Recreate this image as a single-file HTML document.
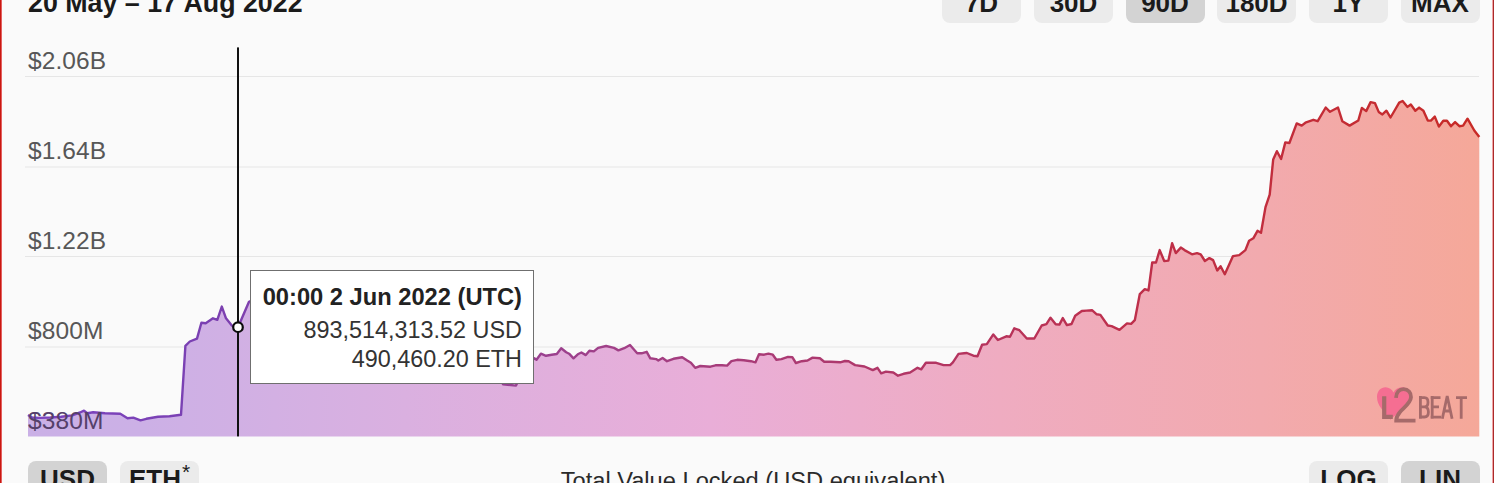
<!DOCTYPE html>
<html><head><meta charset="utf-8">
<style>
html,body{margin:0;padding:0;}
body{width:1494px;height:483px;overflow:hidden;background:#fafafa;position:relative;font-family:"Liberation Sans",sans-serif;}
.bl{position:absolute;left:0;top:0;width:1px;height:483px;background:#c81810;box-shadow:1px 0 0 #e46060;}
.br{position:absolute;left:1493px;top:0;width:1px;height:483px;background:#aa2a2a;box-shadow:-1px 0 0 #f0a4a4;}
.title{position:absolute;left:28px;top:-12px;font-size:26.8px;font-weight:bold;color:#1b1b1b;white-space:nowrap;line-height:30px;}
.btn{position:absolute;height:38px;width:79px;border-radius:8px;background:#ebebeb;color:#1b1b1b;font-weight:bold;font-size:26px;text-align:center;line-height:36.6px;white-space:nowrap;}
.btn.on{background:#d3d3d3;}
.tt{position:absolute;left:249.5px;top:270px;width:282.5px;height:112px;background:#fff;border:1px solid #6f6f6f;box-sizing:content-box;}
.tt div{position:absolute;right:11px;white-space:nowrap;color:#333;font-size:23.4px;}
.tt .h{font-weight:bold;color:#222;font-size:23.7px;}
.lbl{font-family:"Liberation Sans",sans-serif;font-size:24.5px;letter-spacing:0.1px;fill:#575757;}
.foot{position:absolute;left:6px;width:1494px;top:462px;text-align:center;font-size:23.65px;color:#2a2a2a;line-height:38px;}
</style></head><body>
<div class="bl"></div><div class="br"></div>
<div class="title">20 May – 17 Aug 2022</div>
<div class="btn" style="left:942px;top:-15px;line-height:36.2px">7D</div>
<div class="btn" style="left:1034px;top:-15px;line-height:36.2px">30D</div>
<div class="btn on" style="left:1125.5px;top:-15px;line-height:36.2px">90D</div>
<div class="btn" style="left:1217px;top:-15px;line-height:36.2px">180D</div>
<div class="btn" style="left:1309px;top:-15px;line-height:36.2px">1Y</div>
<div class="btn" style="left:1400.5px;top:-15px;line-height:36.2px">MAX</div>
<svg width="1494" height="483" style="position:absolute;left:0;top:0">
<defs>
<linearGradient id="gf" gradientUnits="userSpaceOnUse" x1="28" y1="0" x2="1479" y2="0">
<stop offset="0" stop-color="#cab0e6"/>
<stop offset="0.08" stop-color="#ccb0e6"/>
<stop offset="0.26" stop-color="#dab0e0"/>
<stop offset="0.47" stop-color="#e9aed8"/>
<stop offset="0.67" stop-color="#efacc1"/>
<stop offset="0.85" stop-color="#f2aaae"/>
<stop offset="1" stop-color="#f5a899"/>
</linearGradient>
<linearGradient id="gl" gradientUnits="userSpaceOnUse" x1="28" y1="0" x2="1479" y2="0">
<stop offset="0" stop-color="#7c44c0"/>
<stop offset="0.12" stop-color="#7a40b2"/>
<stop offset="0.4" stop-color="#a04088"/>
<stop offset="0.73" stop-color="#bc3050"/>
<stop offset="1" stop-color="#c82a26"/>
</linearGradient>
</defs>
<g stroke="#e6e6e6" stroke-width="1">
<line x1="25" y1="76.5" x2="1479" y2="76.5"/>
<line x1="25" y1="167" x2="1479" y2="167"/>
<line x1="25" y1="256.5" x2="1479" y2="256.5"/>
<line x1="25" y1="347" x2="1479" y2="347"/>
</g>
<text class="lbl" x="28" y="69">$2.06B</text>
<text class="lbl" x="28" y="159">$1.64B</text>
<text class="lbl" x="28" y="249">$1.22B</text>
<text class="lbl" x="28" y="339">$800M</text>
<path d="M28 415 L32.2 417.5 L39.5 417.9 L50.4 417.5 L61.2 416.8 L72.1 415.4 L80 412.5 L84 410.7 L87.3 413.2 L93.1 412.3 L105 413.2 L120.3 413.8 L127.5 418.2 L133.3 417.6 L140.5 420.3 L146.3 418.8 L158 416.8 L169.5 416.2 L181 414.8 L185.4 345.8 L189.8 341.5 L197 338.6 L201.4 322.7 L205.7 323.2 L213 318.3 L217.3 319.8 L221.8 306.6 L226 318.3 L231.8 325.6 L237.9 327.5 L249 301.8 L260 296.8 L275 310.8 L300 318.8 L330 325.8 L360 330.8 L400 338.8 L440 345.8 L480 352.8 L496 370.8 L503 384.3 L516 385.6 L522 372.8 L534.3 358.3 L536.5 359.8 L540.9 353.7 L546 355.8 L551.7 354.7 L556.8 354 L561.2 348.2 L566.2 352.2 L569.1 353.7 L573.5 358.3 L577.8 354.3 L581.4 352.5 L585.8 355.1 L589.4 350.8 L593.8 351.4 L598.1 347.9 L606.1 346 L614 347.9 L618.4 350.4 L624.2 348.2 L630 345 L637.2 353.3 L641.6 353.3 L646.7 351.8 L650.3 358.3 L656.1 359.1 L658.3 360.5 L662.6 358 L667 361.2 L673.5 358.8 L682.2 357.2 L687.2 360.5 L690.9 362.7 L695.2 367.8 L700.3 366 L710.4 366.7 L715.5 365.3 L722 365.3 L727.1 365.6 L731.4 361.2 L737.2 359.8 L743.8 360.2 L751 361.2 L755.4 362.4 L759 354.3 L764.1 354.7 L768.4 353.6 L772.8 354.7 L776.4 359.8 L781.4 359.1 L788 356.9 L792.3 357.2 L795.9 363 L801.7 361.2 L807.5 360.5 L812.6 357.6 L819.9 358.3 L824.2 361.7 L830.7 361.7 L840.2 362.3 L844.9 361 L848.6 361.3 L855.1 365.1 L864.5 366.5 L872.8 370.1 L877.5 367.8 L881.2 373.4 L885.9 371.6 L893.3 372.5 L898 375.7 L903.6 373.8 L910.1 372.5 L917.5 367.8 L921.3 369.3 L925.9 362.8 L936.2 362.8 L943.6 365.1 L950.1 365.1 L952.9 362.3 L958.5 353.9 L964.1 353.3 L966.9 353 L973.4 355.7 L977.5 356.2 L982.1 344.7 L986.8 344.1 L993.3 334.4 L997.9 340 L1006.3 336.3 L1010 336.7 L1014.3 328.3 L1019.4 330.2 L1026.8 338.5 L1034.3 338.5 L1041.7 325.5 L1046.4 324.2 L1050.5 317.7 L1055.7 324.2 L1059.4 324.6 L1062.8 318.1 L1066.9 325.1 L1071.5 324 L1075.2 315.8 L1081.8 311 L1086.4 310.6 L1092 310.2 L1096.7 314.3 L1100.4 314.9 L1107.8 325.5 L1111.6 326.1 L1119.5 329.8 L1127 323.4 L1131.1 323.9 L1134.8 320.2 L1139.8 294.1 L1144.8 289.1 L1148.5 290.4 L1152.2 262.5 L1156 262.5 L1159.7 250.1 L1164.2 261 L1168.4 260.6 L1172.1 243.2 L1175.8 253.1 L1180.8 247.6 L1184.5 250.1 L1192 254.3 L1197 253.1 L1200.7 254.3 L1204.9 261 L1209.4 258.1 L1213.1 260.1 L1217.3 270.5 L1220.6 266.3 L1224.8 274.2 L1233 256.1 L1239.2 255.1 L1245.4 250.1 L1249.1 240.7 L1253.3 238.3 L1257.5 230.8 L1261 232.8 L1265.5 207.1 L1269.7 194.6 L1273.2 159.4 L1276.9 151.2 L1281.1 159 L1285.3 142.4 L1289.4 143 L1296.7 123.4 L1301.7 125.6 L1305.4 122.7 L1313.3 119.8 L1317.7 121.2 L1325.7 107.5 L1330 111.8 L1338 107.5 L1342.3 121.2 L1349.6 125.6 L1358.3 120.5 L1361.9 107.9 L1366.2 111.1 L1370.6 102.1 L1375 103.2 L1378.7 111.9 L1382.4 114.4 L1386.4 110.7 L1390.5 117.5 L1394.9 110 L1399.2 102.6 L1402.6 101 L1407.5 106.9 L1410.8 104.5 L1415.3 110.7 L1419.1 107.6 L1423.4 110.7 L1427.8 120.6 L1430.9 120.6 L1434.8 116.6 L1438.9 126.6 L1443.3 120.8 L1447 120.8 L1451 126.2 L1455.1 122.1 L1459.4 126.2 L1463.1 125.6 L1467.5 118.7 L1474.3 130.5 L1479.3 137 L1479.3 436.4 L28 436.4 Z" fill="url(#gf)"/>
<path d="M28 415 L32.2 417.5 L39.5 417.9 L50.4 417.5 L61.2 416.8 L72.1 415.4 L80 412.5 L84 410.7 L87.3 413.2 L93.1 412.3 L105 413.2 L120.3 413.8 L127.5 418.2 L133.3 417.6 L140.5 420.3 L146.3 418.8 L158 416.8 L169.5 416.2 L181 414.8 L185.4 345.8 L189.8 341.5 L197 338.6 L201.4 322.7 L205.7 323.2 L213 318.3 L217.3 319.8 L221.8 306.6 L226 318.3 L231.8 325.6 L237.9 327.5 L249 301.8 L260 296.8 L275 310.8 L300 318.8 L330 325.8 L360 330.8 L400 338.8 L440 345.8 L480 352.8 L496 370.8 L503 384.3 L516 385.6 L522 372.8 L534.3 358.3 L536.5 359.8 L540.9 353.7 L546 355.8 L551.7 354.7 L556.8 354 L561.2 348.2 L566.2 352.2 L569.1 353.7 L573.5 358.3 L577.8 354.3 L581.4 352.5 L585.8 355.1 L589.4 350.8 L593.8 351.4 L598.1 347.9 L606.1 346 L614 347.9 L618.4 350.4 L624.2 348.2 L630 345 L637.2 353.3 L641.6 353.3 L646.7 351.8 L650.3 358.3 L656.1 359.1 L658.3 360.5 L662.6 358 L667 361.2 L673.5 358.8 L682.2 357.2 L687.2 360.5 L690.9 362.7 L695.2 367.8 L700.3 366 L710.4 366.7 L715.5 365.3 L722 365.3 L727.1 365.6 L731.4 361.2 L737.2 359.8 L743.8 360.2 L751 361.2 L755.4 362.4 L759 354.3 L764.1 354.7 L768.4 353.6 L772.8 354.7 L776.4 359.8 L781.4 359.1 L788 356.9 L792.3 357.2 L795.9 363 L801.7 361.2 L807.5 360.5 L812.6 357.6 L819.9 358.3 L824.2 361.7 L830.7 361.7 L840.2 362.3 L844.9 361 L848.6 361.3 L855.1 365.1 L864.5 366.5 L872.8 370.1 L877.5 367.8 L881.2 373.4 L885.9 371.6 L893.3 372.5 L898 375.7 L903.6 373.8 L910.1 372.5 L917.5 367.8 L921.3 369.3 L925.9 362.8 L936.2 362.8 L943.6 365.1 L950.1 365.1 L952.9 362.3 L958.5 353.9 L964.1 353.3 L966.9 353 L973.4 355.7 L977.5 356.2 L982.1 344.7 L986.8 344.1 L993.3 334.4 L997.9 340 L1006.3 336.3 L1010 336.7 L1014.3 328.3 L1019.4 330.2 L1026.8 338.5 L1034.3 338.5 L1041.7 325.5 L1046.4 324.2 L1050.5 317.7 L1055.7 324.2 L1059.4 324.6 L1062.8 318.1 L1066.9 325.1 L1071.5 324 L1075.2 315.8 L1081.8 311 L1086.4 310.6 L1092 310.2 L1096.7 314.3 L1100.4 314.9 L1107.8 325.5 L1111.6 326.1 L1119.5 329.8 L1127 323.4 L1131.1 323.9 L1134.8 320.2 L1139.8 294.1 L1144.8 289.1 L1148.5 290.4 L1152.2 262.5 L1156 262.5 L1159.7 250.1 L1164.2 261 L1168.4 260.6 L1172.1 243.2 L1175.8 253.1 L1180.8 247.6 L1184.5 250.1 L1192 254.3 L1197 253.1 L1200.7 254.3 L1204.9 261 L1209.4 258.1 L1213.1 260.1 L1217.3 270.5 L1220.6 266.3 L1224.8 274.2 L1233 256.1 L1239.2 255.1 L1245.4 250.1 L1249.1 240.7 L1253.3 238.3 L1257.5 230.8 L1261 232.8 L1265.5 207.1 L1269.7 194.6 L1273.2 159.4 L1276.9 151.2 L1281.1 159 L1285.3 142.4 L1289.4 143 L1296.7 123.4 L1301.7 125.6 L1305.4 122.7 L1313.3 119.8 L1317.7 121.2 L1325.7 107.5 L1330 111.8 L1338 107.5 L1342.3 121.2 L1349.6 125.6 L1358.3 120.5 L1361.9 107.9 L1366.2 111.1 L1370.6 102.1 L1375 103.2 L1378.7 111.9 L1382.4 114.4 L1386.4 110.7 L1390.5 117.5 L1394.9 110 L1399.2 102.6 L1402.6 101 L1407.5 106.9 L1410.8 104.5 L1415.3 110.7 L1419.1 107.6 L1423.4 110.7 L1427.8 120.6 L1430.9 120.6 L1434.8 116.6 L1438.9 126.6 L1443.3 120.8 L1447 120.8 L1451 126.2 L1455.1 122.1 L1459.4 126.2 L1463.1 125.6 L1467.5 118.7 L1474.3 130.5 L1479.3 137" fill="none" stroke="url(#gl)" stroke-width="2.4" stroke-linejoin="round" stroke-linecap="butt"/>
<text class="lbl" x="28" y="429" style="fill:#55406a">$380M</text>
<g>
<path d="M1390.5 419.8 C1383 411 1377 405 1377 397 C1377 391 1381 387.3 1385.5 387.3 C1389 387.3 1392 389.5 1393.5 392.5 C1395 389.5 1398 387.3 1402 387.3 C1407 387.3 1410.8 391.5 1410.8 397 C1410.8 406 1398 412 1390.5 419.8 Z" fill="#f56e92"/>
<g stroke="#a66a6a" fill="none">
<path d="M1384.2 396.2 V416.8 H1392.8" stroke-width="4.2"/>
<path d="M1396 397.8 C1396.3 392 1399.5 389.2 1403.5 389.2 C1408.2 389.2 1411.2 392.5 1411 397.2 C1410.8 403 1404 407.5 1400 412 C1397.5 415 1396.2 418 1396.2 420.6 H1415.5" stroke-width="3.8"/>
<g stroke-width="2.8">
<path d="M1420.4 396 V418.7 M1420.4 397.6 H1424.5 C1427 397.6 1428 399.8 1428 402.2 C1428 404.7 1427 406.8 1424.5 406.8 H1420.4 M1424.5 406.8 C1427.5 406.8 1428.4 409.5 1428.4 412 C1428.4 414.6 1427.4 417 1424.5 417 H1420.4"/>
<path d="M1432.2 396 V418.7 M1430.6 397.6 H1440.5 M1432.2 406.8 H1439 M1430.6 417.1 H1441"/>
<path d="M1442.3 418.7 L1447.2 396 L1452.1 418.7 M1444 411 H1450.5"/>
<path d="M1456 397.6 H1467 M1461.2 397.6 V418.7"/>
</g>
</g>
</g>
<rect x="237" y="47.4" width="2" height="389" fill="#111"/>
<circle cx="238" cy="327.2" r="4.8" fill="#fff" stroke="#0c0c0c" stroke-width="2.2"/>
</svg>
<div class="tt">
<div class="h" style="top:13px">00:00 2 Jun 2022 (UTC)</div>
<div style="top:46px">893,514,313.52 USD</div>
<div style="top:75px">490,460.20 ETH</div>
</div>
<div class="btn on" style="left:28px;top:461px;line-height:37.6px">USD</div>
<div class="btn" style="left:120px;top:461px;line-height:37.6px">ETH<span style="font-size:21px;vertical-align:top;line-height:20px;position:relative;top:1px;font-weight:normal;margin-left:1px">*</span></div>
<div class="foot">Total Value Locked (USD equivalent)</div>
<div class="btn" style="left:1309px;top:461px;line-height:37.6px">LOG</div>
<div class="btn on" style="left:1400.5px;top:461px;line-height:37.6px">LIN</div>
</body></html>
